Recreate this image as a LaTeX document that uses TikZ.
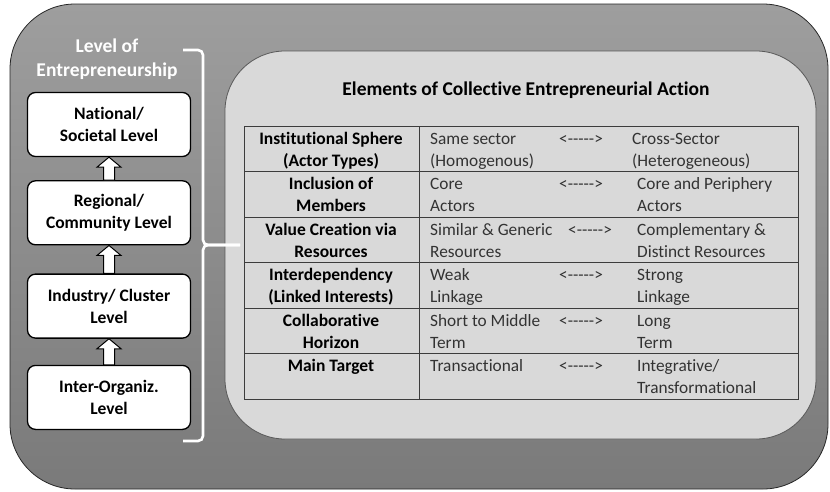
\documentclass[tikz,border=0pt]{standalone}
\usepackage{fontspec}
\setmainfont{Carlito}[Ligatures={TeX,NoCommon}]
\usetikzlibrary{positioning,calc}
\definecolor{outertop}{RGB}{158,158,158}
\definecolor{outerbot}{RGB}{122,122,122}
\definecolor{panel}{RGB}{217,217,217}
\definecolor{rulegray}{RGB}{60,60,60}
\newcommand{\linkarrow}{<-\kern0pt-\kern0pt-\kern0pt-\kern0pt->}
\tikzset{level/.style = {draw=black, line width=1.3pt, fill=white, rounded corners=8pt,
                         minimum width=163pt, minimum height=64pt, align=center, inner sep=0pt,
                         font=\bfseries\fontsize{17.5}{22}\selectfont},
         uparrow/.style = {draw=black, line width=1pt, fill=white, line join=miter},
         headcell/.style = {inner sep=0pt, anchor=base, font=\bfseries\fontsize{17.5}{22}\selectfont},
         cell/.style = {inner sep=0pt, anchor=base west, text=black!80, font=\fontsize{17.3}{22}\selectfont}}

\begin{document}
\begin{tikzpicture}[x=1pt,y=-1pt]
    \useasboundingbox (0,0) rectangle (830,491);
    % outer frame
    \shade[top color=outertop, bottom color=outerbot, rounded corners=65pt] (10,4) rectangle (828,489);
    \draw[black!85, line width=0.8pt, rounded corners=65pt] (10,4) rectangle (828,489);
    % inner panel
    \draw[fill=panel, draw=black!65, line width=0.8pt, rounded corners=60pt] (225,51) rectangle (816,439);

    % levels
    \node (lvl) [align=center, inner sep=0pt, text=white, font=\bfseries\fontsize{19.5}{24}\selectfont] at (107,59) {Level of\\Entrepreneurship};
    \node (n1) [level] at (109,124.5) {National/\\Societal Level};
    \node (n2) [level, below=23pt of n1] {Regional/\\Community Level};
    \node (n3) [level, below=28pt of n2] {Industry/ Cluster\\Level};
    \node (n4) [level, below=26pt of n3] {Inter-Organiz.\\Level};
    \foreach \a/\b in {n2/n1, n3/n2, n4/n3}
        \draw[uparrow] ($(\a.north)+(-5.5,0)$) -- ($(\b.south)+(-5.5,10)$) -- ++(-6.5,0) -- (\b.south)
                       -- ($(\b.south)+(12,10)$) -- ++(-6.5,0) -- ($(\a.north)+(5.5,0)$) -- cycle;

    % bracket
    \coordinate (bt) at (183,50);
    \coordinate (bm) at (240,245);
    \coordinate (bb) at (183,441);
    \draw[white, line width=2.6pt, rounded corners=5pt] (bt) -- (203,50) -- (203,245) -- (bm);
    \draw[white, line width=2.6pt, rounded corners=5pt] (bb) -- (203,441) -- (203,245) -- (bm);

    % table
    \node (title) [inner sep=0pt, font=\bfseries\fontsize{19.5}{24}\selectfont] at (526,90) {Elements of Collective Entrepreneurial Action};
    \draw[rulegray, line width=0.9pt] (244,126) rectangle (798,399);
    \draw[rulegray, line width=0.9pt] (419,126) -- (419,399);
    \foreach \r in {1,...,5}
        \draw[rulegray, line width=0.9pt] (244,{126+45.5*\r}) -- (798,{126+45.5*\r});
    \foreach \r/\ka/\kb/\va/\vb/\wa/\wb/\ax/\wx in {
        0/Institutional Sphere/(Actor Types)/Same sector/(Homogenous)/Cross-Sector/(Heterogeneous)/559/632,
        1/Inclusion of/Members/Core/Actors/Core and Periphery/Actors/559/637,
        2/Value Creation via/Resources/Similar \& Generic/Resources/Complementary \&/Distinct Resources/568/637,
        3/Interdependency/(Linked Interests)/Weak/Linkage/Strong/Linkage/559/637,
        4/Collaborative/Horizon/Short to Middle/Term/Long/Term/559/637,
        5/Main Target//Transactional//{Integrative/}/Transformational/559/637}{
        \node (ka\r) [headcell] at (331,{144+45.5*\r}) {\ka};
        \node (kb\r) [headcell] at (331,{166+45.5*\r}) {\kb};
        \node (va\r) [cell] at (430,{144+45.5*\r}) {\va};
        \node (vb\r) [cell] at (430,{166+45.5*\r}) {\vb};
        \node (ar\r) [cell] at (\ax,{144+45.5*\r}) {\linkarrow};
        \node (wa\r) [cell] at (\wx,{144+45.5*\r}) {\wa};
        \node (wb\r) [cell] at (\wx,{166+45.5*\r}) {\wb};
    }
\end{tikzpicture}
\end{document}
